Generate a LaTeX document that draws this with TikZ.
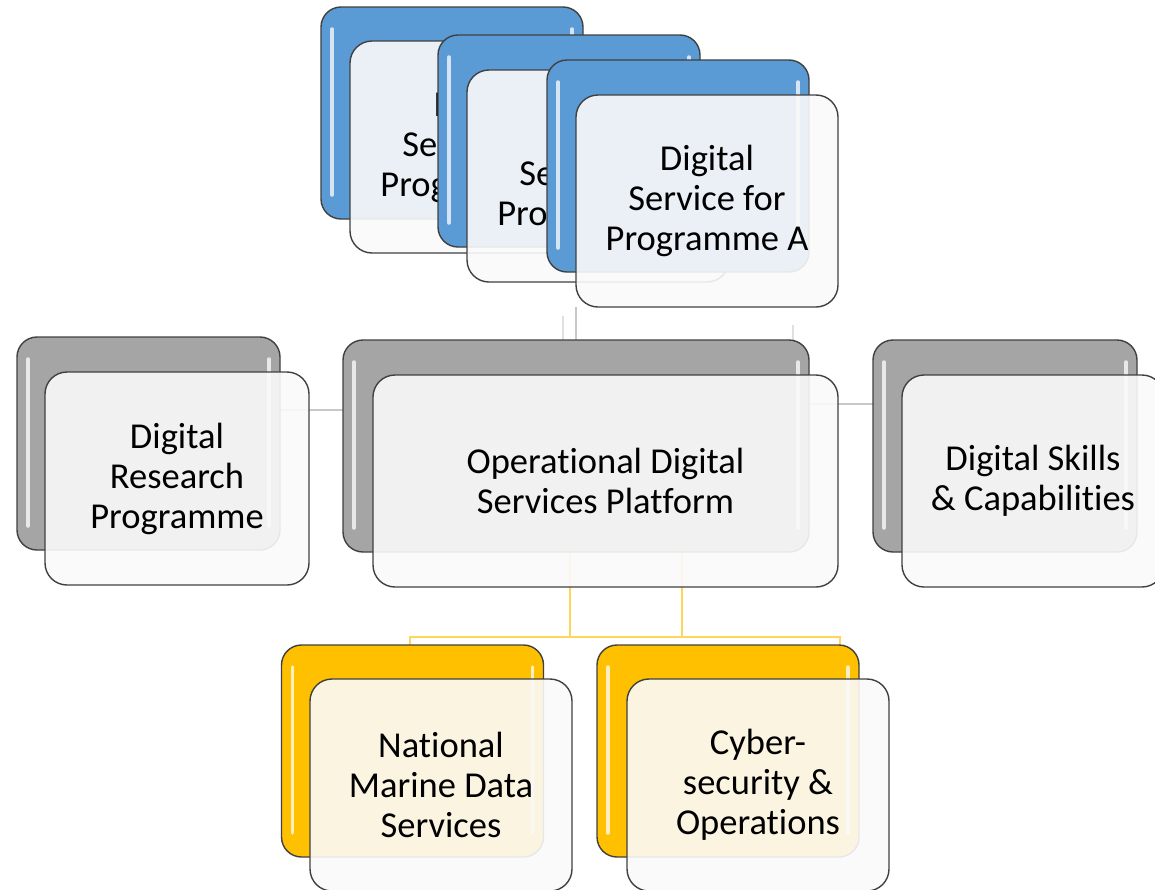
\documentclass[tikz,border=0pt]{standalone}
\usepackage{fontspec}
\setmainfont{Carlito}[Ligatures=NoCommon]
\definecolor{cblue}{RGB}{91,155,213}
\definecolor{cgrey}{RGB}{165,165,165}
\definecolor{cyell}{RGB}{255,192,0}
\definecolor{edge}{RGB}{64,64,64}
\definecolor{lconn}{RGB}{200,200,200}
\definecolor{yconnc}{RGB}{255,214,90}
\tikzset{
  card/.style={rounded corners=20pt, draw=edge, line width=1.4pt,
    minimum width=262pt, minimum height=212pt, inner sep=0pt, outer sep=0pt},
  backblue/.style={card, fill=cblue},
  backgrey/.style={card, fill=cgrey},
  backyell/.style={card, fill=cyell},
  front/.style={card, rounded corners=22pt, fill=white!98!black, fill opacity=0.9,
    text opacity=1, align=center, text=black,
    font=\fontsize{36.5}{40}\selectfont},
  gloss/.style={white, line width=3.5pt, line cap=round, opacity=0.75},
  gconn/.style={lconn, line width=2pt},
  gconnlight/.style={black!12, line width=2.5pt},
  yconn/.style={yconnc, line width=2.2pt},
}
\newcommand{\glossy}[1]{%
  \draw[gloss] ([xshift=11pt,yshift=-22pt]#1.north west) -- ([xshift=11pt,yshift=24pt]#1.south west);
  \draw[gloss] ([xshift=-11pt,yshift=-22pt]#1.north east) -- ([xshift=-11pt,yshift=24pt]#1.south east);
}
\begin{document}
\begin{tikzpicture}[x=1pt,y=-1pt]
\useasboundingbox (0,0) rectangle (1155,889);
\clip (0,0) rectangle (1155,889);

\coordinate (t2) at (563,316);
\coordinate (t3) at (793,325);

% top stack (the two rear cards are mostly hidden by the cards in front of them)
\node[backblue] (b1) at (452,113) {};
\glossy{b1}
\node[front] (f1) at (481,147) {D\phantom{igital}\\Se\phantom{rvice for}\\Prog\phantom{ramme C}};
\node[backblue] (b2) at (569,141) {};
\glossy{b2}
\node[front] (f2) at (598,176) {\phantom{Digital}\\Se\phantom{rvice for}\\Prog\phantom{ramme B}};
\node[backblue] (b3) at (678,166) {};
\glossy{b3}
\node[front] (f3) at (707,201) {Digital\\Service for\\Programme A};

% connectors to the top stack
\coordinate (cbn) at (576,340);
\draw[gconn] (f3.south west) -- (f3.south west |- cbn);
\draw[gconnlight] (t2) -- (t2 |- cbn);
\draw[gconnlight] (t3) -- (t3 |- cbn);

% left and right connectors
\coordinate (lc) at (280,410);
\coordinate (lc2) at (343,410);
\coordinate (rc) at (809,404);
\coordinate (rc2) at (873,404);
\draw[gconn] (lc) -- (lc2);
\draw[gconn] (rc) -- (rc2);

% yellow connectors
\coordinate (y1) at (570,550);
\coordinate (y2) at (682,550);
\coordinate (ya) at (410,645);
\coordinate (yb) at (840,645);
\draw[yconn] (y1) -- (570,637);
\draw[yconn] (y2) -- (682,637);
\draw[yconn, line join=miter] (ya) -- (410,637) -- (840,637) -- (yb);

% middle row
\node[backgrey, minimum width=263pt, minimum height=213pt] (drb) at (148.5,443.5) {};
\glossy{drb}
\node[front, minimum width=264pt, minimum height=213pt] (drf) at (177,478.5) {Digital\\Research\\Programme};

\node[backgrey, minimum width=466pt] (cb) at (576,446) {};
\glossy{cb}
\node[front, minimum width=465pt] (cf) at (605.5,481) {Operational Digital\\Services Platform};

\node[backgrey, minimum width=264pt] (dsb) at (1005,446) {};
\glossy{dsb}
\node[front] (dsf) at (1033,481) {Digital Skills\\\& Capabilities};

% bottom row
\node[backyell] (nmb) at (412.5,751) {};
\glossy{nmb}
\node[front] (nmf) at (441,785) {National\\Marine Data\\Services};

\node[backyell] (csb) at (728,751) {};
\glossy{csb}
\node[front] (csf) at (758,785) {Cyber-\\security \&\\Operations};
\end{tikzpicture}
\end{document}
